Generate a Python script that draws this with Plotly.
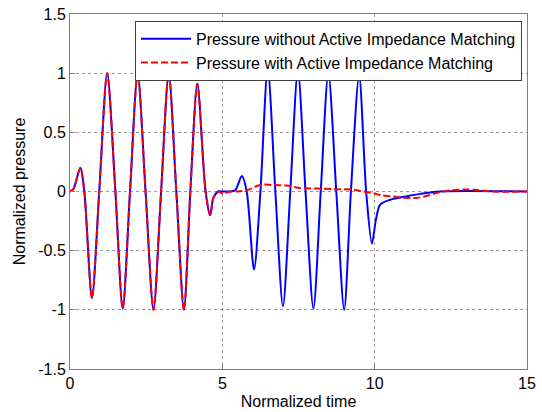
import plotly.graph_objects as go

# Shared incident wave (both curves coincide here)
x_incident = [0.0, 0.11, 0.34, 0.47, 0.72, 0.96, 1.22, 1.49, 1.73, 1.97, 2.22, 2.48,
              2.74, 2.99, 3.24, 3.49, 3.74, 3.95, 4.18, 4.45, 4.60, 4.71, 4.87]
y_incident = [0.0, 0.02, 0.20, 0.0, -0.90, 0.0, 1.0, 0.0, -0.99, 0.0, 1.0, 0.0,
              -1.0, 0.0, 1.0, 0.0, -1.0, 0.0, 0.91, 0.0, -0.20, -0.05, 0.0]

# Pressure without active impedance matching (after incident wave)
x_without = [5.0, 5.2, 5.42, 5.64, 5.80, 6.04, 6.25, 6.49, 6.74, 6.99, 7.23, 7.48,
             7.73, 7.99, 8.23, 8.48, 8.74, 9.0, 9.22, 9.49, 9.72, 9.91, 10.04,
             10.18, 10.51, 11.06, 11.49, 12.15, 15.0]
y_without = [0.0, 0.0, 0.01, 0.13, 0.0, -0.66, 0.0, 1.04, 0.0, -0.97, 0.0, 1.02,
             0.0, -0.99, 0.0, 1.0, 0.0, -1.0, 0.0, 0.98, 0.0, -0.44, -0.24,
             -0.11, -0.07, -0.04, -0.02, 0.0, 0.0]

# Pressure with active impedance matching (after incident wave)
x_with = [5.03, 5.25, 5.5, 5.80, 6.18, 6.40, 6.62, 7.12, 7.55, 8.10, 8.65, 9.30,
          9.52, 9.96, 10.18, 10.51, 10.84, 11.3, 11.6, 11.93, 12.37, 12.92, 13.36,
          13.9, 15.0]
y_with = [-0.02, 0.0, 0.0, 0.01, 0.05, 0.06, 0.055, 0.05, 0.03, 0.025, 0.02, 0.015,
          0.005, -0.015, -0.03, -0.04, -0.05, -0.055, -0.045, -0.02, 0.005, 0.017, 0.012,
          0.0, 0.0]

x_ticks = [0, 5, 10, 15]
y_ticks = [-1.5, -1, -0.5, 0, 0.5, 1, 1.5]
y_tick_labels = ["-1.5", "-1", "-0.5", "0", "0.5", "1", "1.5"]

name_without = "Pressure without Active Impedance Matching"
name_with = "Pressure with Active Impedance Matching"

font = "Liberation Sans, Arial, sans-serif"

fig = go.Figure()
fig.add_trace(go.Scatter(
    x=x_incident + x_without, y=y_incident + y_without, mode="lines",
    name=name_without,
    line=dict(color="#0000ff", width=2, shape="spline", smoothing=0.8),
))
fig.add_trace(go.Scatter(
    x=x_incident + x_with, y=y_incident + y_with, mode="lines",
    name=name_with,
    line=dict(color="#ff0000", width=2, dash="7px,3px", shape="spline", smoothing=0.8),
))

axis_common = dict(
    showline=True, linecolor="#808080", linewidth=1, mirror=True,
    ticks="inside", ticklen=5, tickcolor="#808080",
    showgrid=True, gridcolor="#9a9a9a", gridwidth=1, griddash="dot",
    zeroline=False, automargin=False, ticklabeloverflow="allow",
    tickfont=dict(family=font, size=16, color="black"),
)

fig.update_layout(
    width=542, height=412,
    margin=dict(l=70, r=15, t=14, b=43),
    paper_bgcolor="white", plot_bgcolor="white",
    font=dict(family=font, size=16, color="black"),
    xaxis=dict(range=[0, 15], tickvals=x_ticks,
               title=dict(text="Normalized time", font=dict(family=font, size=16), standoff=4),
               **axis_common),
    yaxis=dict(range=[-1.5, 1.5], tickvals=y_ticks, ticktext=y_tick_labels,
               title=dict(text="Normalized pressure", font=dict(family=font, size=16), standoff=8),
               **axis_common),
    legend=dict(x=0.989, xanchor="right", y=0.981, yanchor="top",
                bgcolor="white", bordercolor="#404040", borderwidth=1,
                font=dict(family=font, size=16, color="black"),
                tracegroupgap=0, itemwidth=50),
    showlegend=True,
)

# Remove the default page margin so the 542x412 figure fills the window exactly.
fig.write_html("out.html",
               config={"displayModeBar": False},
               post_script="document.body.style.margin='0';document.body.style.overflow='hidden';")
